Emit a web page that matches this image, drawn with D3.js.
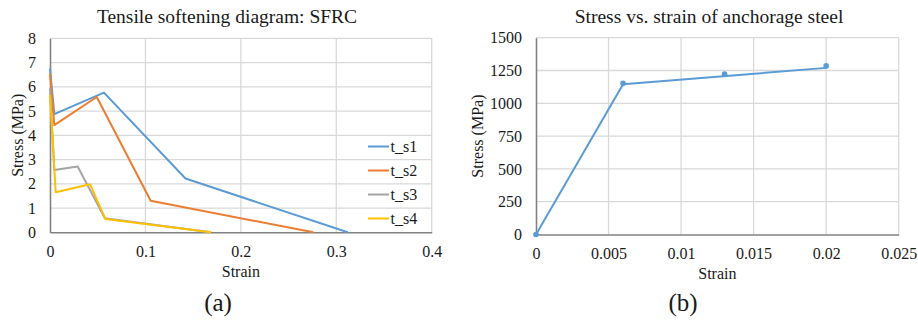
<!DOCTYPE html>
<html><head><meta charset="utf-8">
<script src="https://cdn.jsdelivr.net/npm/d3@7"></script>
<style>
body{margin:0;background:#fff;}
</style></head>
<body><svg id="c" width="918" height="320"></svg>
<script>
// ---- Data: chart (a) tensile softening ----
const seriesNames = ["t_s1","t_s2","t_s3","t_s4"];
const seriesColors = ["#5B9BD5","#ED7D31","#A5A5A5","#FFC000"];
const ts1 = [[0,6.76],[0.0045,4.87],[0.0565,5.76],[0.142,2.22],[0.312,0]];
const ts2 = [[0,6.56],[0.0045,4.42],[0.049,5.58],[0.1055,1.30],[0.276,0]];
const ts3 = [[0,5.94],[0.0045,2.57],[0.029,2.71],[0.0575,0.58],[0.1688,0]];
const ts4 = [[0,5.66],[0.006,1.65],[0.042,1.98],[0.058,0.55],[0.1688,0]];
const xTicksA = [0,0.1,0.2,0.3,0.4];
const yTicksA = [0,1,2,3,4,5,6,7,8];
// ---- Data: chart (b) anchorage steel ----
const steelLine = [[0,0],[0.006,1145],[0.02,1270]];
const steelPoints = [[0,0],[0.006,1152],[0.013,1222],[0.02,1285]];
const xTicksB = [0,0.005,0.01,0.015,0.02,0.025];
const yTicksB = [0,250,500,750,1000,1250,1500];

const FONT = '"Liberation Serif", "Times New Roman", serif';
const svg = d3.select("#c");
const gridC = "#d9d9d9", axisC = "#828282", textC = "#1a1a1a";

function txt(sel, size){
  return sel.style("font-family",FONT).style("font-size",size+"px").attr("fill",textC);
}

function panel(o){
  const x = d3.scaleLinear().domain(o.xd).range([o.l,o.r]);
  const y = d3.scaleLinear().domain(o.yd).range([o.b,o.t]);
  const g = svg.append("g");
  g.selectAll(".gy").data(o.yt.filter(v=>v!==o.yd[0])).join("line")
    .attr("x1",o.l).attr("x2",o.r).attr("y1",d=>y(d)).attr("y2",d=>y(d))
    .attr("stroke",gridC).attr("stroke-width",1.3);
  g.selectAll(".gx").data(o.xt.filter(v=>v!==o.xd[0])).join("line")
    .attr("y1",o.t).attr("y2",o.b).attr("x1",d=>x(d)).attr("x2",d=>x(d))
    .attr("stroke",gridC).attr("stroke-width",1.3);
  const xa = g.append("g").attr("transform",`translate(0,${o.b})`)
    .call(d3.axisBottom(x).tickValues(o.xt).tickSize(0).tickPadding(13).tickFormat(d=>String(d)));
  const ya = g.append("g").attr("transform",`translate(${o.l},0)`)
    .call(d3.axisLeft(y).tickValues(o.yt).tickSize(0).tickPadding(o.ypad).tickFormat(d=>String(d)));
  [xa,ya].forEach(a=>{
    a.attr("font-family",null).attr("font-size",null);
    a.select(".domain").attr("stroke",axisC).attr("stroke-width",1.6);
    txt(a.selectAll("text"),16);
  });
  txt(svg.append("text").attr("x",o.tx).attr("y",23).attr("text-anchor","middle"),19.5).text(o.title);
  txt(svg.append("text").attr("x",(o.l+o.r)/2).attr("y",o.sy).attr("text-anchor","middle"),16).text("Strain");
  txt(svg.append("text").attr("transform",`translate(${o.ylx},${(o.t+o.b)/2}) rotate(-90)`)
    .attr("text-anchor","middle"),16).text("Stress (MPa)");
  txt(svg.append("text").attr("x",o.capx).attr("y",311).attr("text-anchor","middle"),25).text(o.cap);
  return {x,y,g};
}

// Panel (a)
const A = panel({l:50,r:431.7,t:38.3,b:232.3,xd:[0,0.4],yd:[0,8],xt:xTicksA,yt:yTicksA,ypad:14,
  title:"Tensile softening diagram: SFRC",tx:227,ylx:23,sy:277,cap:"(a)",capx:218});
const lineA = d3.line().x(d=>A.x(d[0])).y(d=>A.y(d[1]));
[ts1,ts2,ts3,ts4].forEach((s,i)=>{
  A.g.append("path").attr("d",lineA(s)).attr("fill","none")
    .attr("stroke",seriesColors[i]).attr("stroke-width",2).attr("stroke-linejoin","round");
});
const leg = A.g.append("g");
seriesNames.forEach((n,i)=>{
  const yy = 146.5 + i*24;
  leg.append("line").attr("x1",368).attr("x2",389).attr("y1",yy).attr("y2",yy)
    .attr("stroke",seriesColors[i]).attr("stroke-width",2);
  txt(leg.append("text").attr("x",390.5).attr("y",yy+5.5),16).text(n);
});

// Panel (b)
const B = panel({l:536,r:898.7,t:37.7,b:234.5,xd:[0,0.025],yd:[0,1500],xt:xTicksB,yt:yTicksB,ypad:14,
  title:"Stress vs. strain of anchorage steel",tx:709,ylx:483,sy:279,cap:"(b)",capx:683});
const lineB = d3.line().x(d=>B.x(d[0])).y(d=>B.y(d[1]));
B.g.append("path").attr("d",lineB(steelLine)).attr("fill","none")
  .attr("stroke","#5B9BD5").attr("stroke-width",2).attr("stroke-linejoin","round");
B.g.selectAll(".pt").data(steelPoints).join("circle")
  .attr("cx",d=>B.x(d[0])).attr("cy",d=>B.y(d[1])).attr("r",2.8).attr("fill","#5B9BD5");
</script></body></html>
